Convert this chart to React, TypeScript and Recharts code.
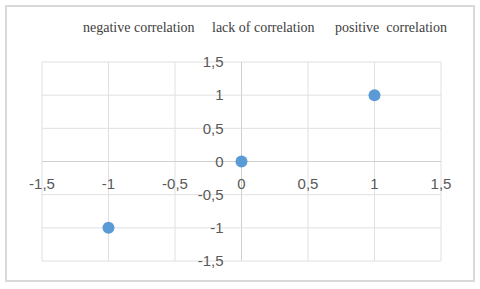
import { ScatterChart, Scatter, XAxis, YAxis, ReferenceDot, ReferenceLine } from 'recharts';

const headings = ['negative correlation', 'lack of correlation', 'positive  correlation'];
const xValues = [-1, 0, 1];
const yValues = [-1, 0, 1];
const xTicks = [-1.5, -1, -0.5, 0, 0.5, 1, 1.5];
const yTicks = [-1.5, -1, -0.5, 0, 0.5, 1, 1.5];

const points = xValues.map((x, i) => ({ x, y: yValues[i] }));
const fmt = (v: number) => String(v).replace('.', ',');

const headingLeft = [83, 212, 335];
const labelFont = "'Liberation Sans', Arial, sans-serif";

const Marker = (props: any) => <circle cx={props.cx} cy={props.cy} r={6} fill="#5b9bd5" />;

export default function App() {
  return (
    <div style={{ position: 'absolute', left: 0, top: 0, width: 480, height: 289, background: '#fff' }}>
      <div
        style={{
          position: 'absolute',
          left: 5,
          top: 5,
          width: 466,
          height: 273,
          border: '2px solid #d9d9d9',
        }}
      />
      {headings.map((h, i) => (
        <div
          key={h}
          style={{
            position: 'absolute',
            left: headingLeft[i],
            top: 20,
            fontFamily: "'Liberation Serif', 'Times New Roman', serif",
            fontSize: 14,
            color: '#404040',
            whiteSpace: 'pre',
          }}
        >
          {h}
        </div>
      ))}
      <ScatterChart
        width={480}
        height={289}
        margin={{ top: 62, right: 39, bottom: 28, left: 42 }}
        style={{ position: 'absolute', left: 0, top: 0 }}
      >
        <XAxis
          type="number"
          dataKey="x"
          domain={[-1.5, 1.5]}
          ticks={xTicks}
          tick={false}
          axisLine={false}
          tickLine={false}
          height={0}
        />
        <YAxis
          type="number"
          dataKey="y"
          domain={[-1.5, 1.5]}
          ticks={yTicks}
          tick={false}
          axisLine={false}
          tickLine={false}
          width={0}
        />
        {/* gridlines, including the axes through 0 */}
        {xTicks.map((t) => (
          <ReferenceLine key={'gx' + t} x={t} stroke={t === 0 ? '#d0d0d0' : '#e0e0e0'} />
        ))}
        {yTicks.map((t) => (
          <ReferenceLine key={'gy' + t} y={t} stroke={t === 0 ? '#d0d0d0' : '#e0e0e0'} />
        ))}
        {xTicks.map((t) => (
          <ReferenceDot
            key={'x' + t}
            x={t}
            y={0}
            r={0}
            stroke="none"
            fill="none"
            label={{ value: fmt(t), position: 'bottom', offset: 17, fill: '#595959', fontSize: 15, fontFamily: labelFont }}
          />
        ))}
        {yTicks.map((t) => (
          <ReferenceDot
            key={'y' + t}
            x={0}
            y={t}
            r={0}
            stroke="none"
            fill="none"
            label={{ value: fmt(t), position: 'left', offset: 18, fill: '#595959', fontSize: 15, fontFamily: labelFont }}
          />
        ))}
        <Scatter data={points} shape={Marker} isAnimationActive={false} />
      </ScatterChart>
    </div>
  );
}
